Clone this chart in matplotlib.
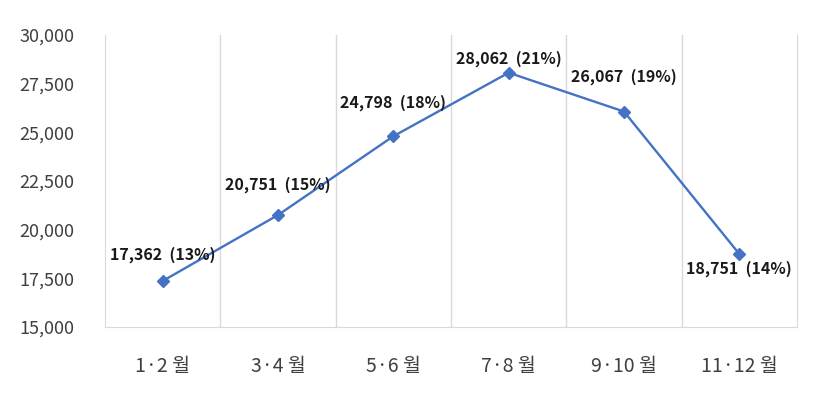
import matplotlib
matplotlib.use("Agg")
import matplotlib.pyplot as plt
from matplotlib.ticker import FuncFormatter, MultipleLocator

plt.rcParams["font.family"] = ["Noto Sans CJK KR", "DejaVu Sans"]

periods = ["1·2 월", "3·4 월", "5·6 월", "7·8 월", "9·10 월", "11·12 월"]
counts = [17362, 20751, 24798, 28062, 26067, 18751]
shares = [13, 15, 18, 21, 19, 14]

# label offsets in points (dx, dy) relative to each marker
label_offsets = [(0, 19), (0, 22), (0, 24), (0, 10), (0, 25), (0, -11)]

fig = plt.figure(figsize=(8.17, 3.99), dpi=100)
ax = fig.add_axes([0.1285, 0.1805, 0.847, 0.7318])

x = list(range(len(periods)))
ax.plot(x, counts, "-", color="#4472C4", linewidth=1.7, marker="D",
        markersize=6, zorder=3)

for xi, c, s, (dx, dy) in zip(x, counts, shares, label_offsets):
    ax.annotate(f"{c:,}  ({s}%)", (xi, c), xytext=(dx, dy),
                textcoords="offset points", ha="center", va="center",
                fontsize=11.5, fontweight="bold", color="#1a1a1a")

ax.set_xlim(-0.5, len(periods) - 0.5)
ax.set_ylim(15000, 30000)
ax.yaxis.set_major_locator(MultipleLocator(2500))
ax.yaxis.set_major_formatter(FuncFormatter(lambda v, _: f"{v:,.0f}"))
ax.set_xticks(x)
ax.set_xticklabels(periods)

# vertical category gridlines between groups
for b in range(1, len(periods)):
    ax.axvline(b - 0.5, color="#d9d9d9", linewidth=1, zorder=0)

ax.spines["top"].set_visible(False)
for side in ["left", "bottom", "right"]:
    ax.spines[side].set_color("#d9d9d9")
ax.tick_params(axis="both", length=0, colors="#404040")
ax.tick_params(axis="y", labelsize=13, pad=22)
ax.tick_params(axis="x", labelsize=14, pad=21)

fig.savefig("out.png", dpi=100)
